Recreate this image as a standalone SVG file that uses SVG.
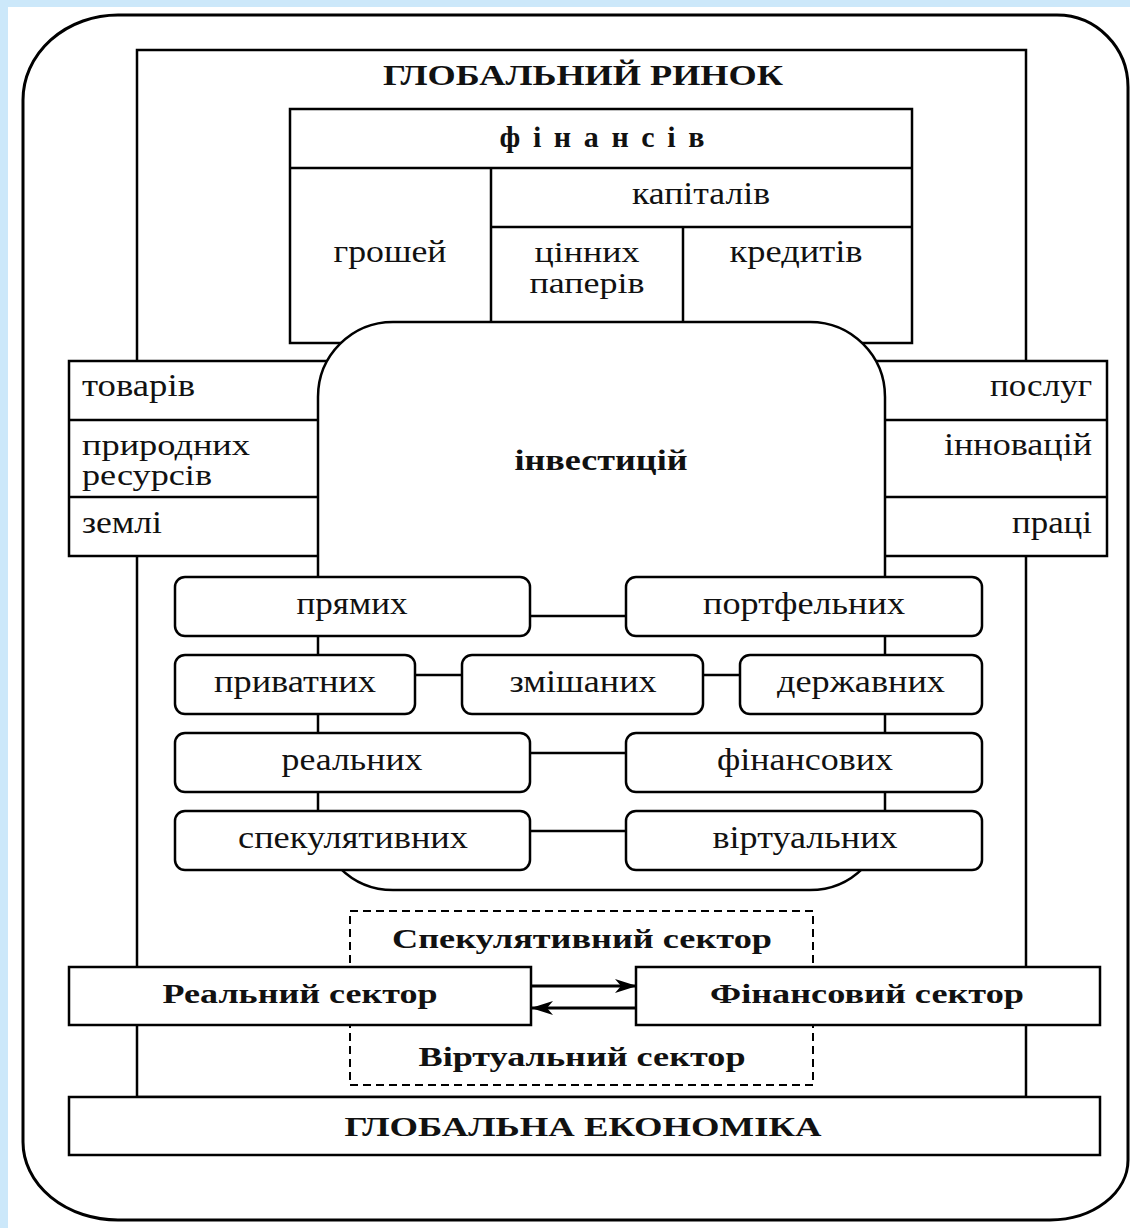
<svg xmlns="http://www.w3.org/2000/svg" width="1130" height="1228" viewBox="0 0 1130 1228">
<defs>
<style>
.ln{fill:none;stroke:#000;stroke-width:2.5}
.bx{fill:#fff;stroke:#000;stroke-width:2.5}
.t{font-family:"Liberation Serif","Times New Roman",serif;font-size:32px;fill:#111}
.s{font-size:29px}
.b{font-family:"Liberation Serif","Times New Roman",serif;font-weight:bold;fill:#111}
.m{text-anchor:middle}
.e{text-anchor:end}
</style>
<marker id="ah" markerWidth="22" markerHeight="14" refX="21" refY="7" orient="auto" markerUnits="userSpaceOnUse">
<path d="M0,0 L22,7 L0,14 L6,7 Z" fill="#000"/>
</marker>
</defs>
<rect x="0" y="0" width="1130" height="1228" fill="#cce8fa"/>
<rect x="8" y="7" width="1122" height="1221" fill="#fff"/>
<path d="M118 15 H1057 A71 72 0 0 1 1128 87 V1160 A78 60 0 0 1 1050 1220 H118 A95 78 0 0 1 23 1142 V100 A95 85 0 0 1 118 15 Z" fill="#fff" stroke="#000" stroke-width="3"/>

<g id="global-market">
<rect x="137" y="50" width="889" height="1047" class="ln" stroke-width="3"/>
<text class="b m" x="583" y="85" font-size="30" textLength="400" lengthAdjust="spacingAndGlyphs">ГЛОБАЛЬНИЙ РИНОК</text>
</g>

<g id="finance">
<rect x="290" y="109" width="622" height="234" class="bx" stroke-width="3"/>
<line x1="290" y1="168" x2="912" y2="168" class="ln"/>
<line x1="491" y1="168" x2="491" y2="343" class="ln"/>
<line x1="491" y1="227" x2="912" y2="227" class="ln"/>
<line x1="683" y1="227" x2="683" y2="343" class="ln"/>
<text class="b m" x="602" y="147" font-size="30" textLength="205" lengthAdjust="spacing">фінансів</text>
<text class="t m" x="701" y="204" textLength="138" lengthAdjust="spacingAndGlyphs">капіталів</text>
<text class="t m" x="390" y="262" textLength="113" lengthAdjust="spacingAndGlyphs">грошей</text>
<text class="t s m" x="587" y="262" textLength="105" lengthAdjust="spacingAndGlyphs">цінних</text>
<text class="t s m" x="587" y="293" textLength="115" lengthAdjust="spacingAndGlyphs">паперів</text>
<text class="t m" x="796" y="262" textLength="133" lengthAdjust="spacingAndGlyphs">кредитів</text>
</g>

<g id="left-markets">
<rect x="69" y="361" width="280" height="195" class="bx"/>
<line x1="69" y1="420" x2="349" y2="420" class="ln"/>
<line x1="69" y1="497" x2="349" y2="497" class="ln"/>
<text class="t" x="82" y="396" textLength="113" lengthAdjust="spacingAndGlyphs">товарів</text>
<text class="t s" x="82" y="455" textLength="168" lengthAdjust="spacingAndGlyphs">природних</text>
<text class="t s" x="82" y="485" textLength="130" lengthAdjust="spacingAndGlyphs">ресурсів</text>
<text class="t" x="82" y="533" textLength="80" lengthAdjust="spacingAndGlyphs">землі</text>
</g>

<g id="right-markets">
<rect x="855" y="361" width="252" height="195" class="bx"/>
<line x1="855" y1="420" x2="1107" y2="420" class="ln"/>
<line x1="855" y1="497" x2="1107" y2="497" class="ln"/>
<text class="t e" x="1092" y="396" textLength="102" lengthAdjust="spacingAndGlyphs">послуг</text>
<text class="t e" x="1092" y="455" textLength="148" lengthAdjust="spacingAndGlyphs">інновацій</text>
<text class="t e" x="1092" y="533" textLength="80" lengthAdjust="spacingAndGlyphs">праці</text>
</g>

<g id="investments">
<rect x="318" y="322" width="567" height="568" rx="75" ry="75" class="bx"/>
<text class="b m" x="601" y="470" font-size="30" textLength="173" lengthAdjust="spacingAndGlyphs">інвестицій</text>
</g>

<g id="connectors">
<line x1="530" y1="616" x2="626" y2="616" class="ln"/>
<line x1="415" y1="675" x2="462" y2="675" class="ln"/>
<line x1="703" y1="675" x2="740" y2="675" class="ln"/>
<line x1="530" y1="753" x2="626" y2="753" class="ln"/>
<line x1="530" y1="831" x2="626" y2="831" class="ln"/>
<line x1="532" y1="986" x2="636" y2="986" stroke="#000" stroke-width="3" marker-end="url(#ah)"/>
<line x1="636" y1="1008" x2="532" y2="1008" stroke="#000" stroke-width="3" marker-end="url(#ah)"/>
</g>

<g id="n-direct"><rect x="175" y="577" width="355" height="59" rx="10" class="bx"/><text class="t m" x="352" y="614" textLength="111" lengthAdjust="spacingAndGlyphs">прямих</text></g>
<g id="n-portfolio"><rect x="626" y="577" width="356" height="59" rx="10" class="bx"/><text class="t m" x="804" y="614" textLength="202" lengthAdjust="spacingAndGlyphs">портфельних</text></g>
<g id="n-private"><rect x="175" y="655" width="240" height="59" rx="10" class="bx"/><text class="t m" x="295" y="692" textLength="162" lengthAdjust="spacingAndGlyphs">приватних</text></g>
<g id="n-mixed"><rect x="462" y="655" width="241" height="59" rx="10" class="bx"/><text class="t m" x="583" y="692" textLength="147" lengthAdjust="spacingAndGlyphs">змішаних</text></g>
<g id="n-state"><rect x="740" y="655" width="242" height="59" rx="10" class="bx"/><text class="t m" x="861" y="692" textLength="168" lengthAdjust="spacingAndGlyphs">державних</text></g>
<g id="n-real"><rect x="175" y="733" width="355" height="59" rx="10" class="bx"/><text class="t m" x="352" y="770" textLength="141" lengthAdjust="spacingAndGlyphs">реальних</text></g>
<g id="n-financial"><rect x="626" y="733" width="356" height="59" rx="10" class="bx"/><text class="t m" x="805" y="770" textLength="176" lengthAdjust="spacingAndGlyphs">фінансових</text></g>
<g id="n-speculative"><rect x="175" y="811" width="355" height="59" rx="10" class="bx"/><text class="t m" x="353" y="848" textLength="230" lengthAdjust="spacingAndGlyphs">спекулятивних</text></g>
<g id="n-virtual"><rect x="626" y="811" width="356" height="59" rx="10" class="bx"/><text class="t m" x="805" y="848" textLength="185" lengthAdjust="spacingAndGlyphs">віртуальних</text></g>

<g id="sectors-dashed">
<rect x="350" y="911" width="463" height="174" fill="none" stroke="#000" stroke-width="2" stroke-dasharray="8 5"/>
<text class="b m" x="582" y="948" font-size="28" textLength="380" lengthAdjust="spacingAndGlyphs">Спекулятивний сектор</text>
<text class="b m" x="582" y="1066" font-size="28" textLength="327" lengthAdjust="spacingAndGlyphs">Віртуальний сектор</text>
</g>

<g id="real-sector"><rect x="69" y="967" width="462" height="58" class="bx" stroke-width="3"/><text class="b m" x="300" y="1003" font-size="28" textLength="275" lengthAdjust="spacingAndGlyphs">Реальний сектор</text></g>
<g id="financial-sector"><rect x="636" y="967" width="464" height="58" class="bx" stroke-width="3"/><text class="b m" x="867" y="1003" font-size="28" textLength="314" lengthAdjust="spacingAndGlyphs">Фінансовий сектор</text></g>

<g id="global-economy"><rect x="69" y="1097" width="1031" height="58" class="bx" stroke-width="3"/><text class="b m" x="583" y="1136" font-size="28" textLength="477" lengthAdjust="spacingAndGlyphs">ГЛОБАЛЬНА ЕКОНОМІКА</text></g>
</svg>
